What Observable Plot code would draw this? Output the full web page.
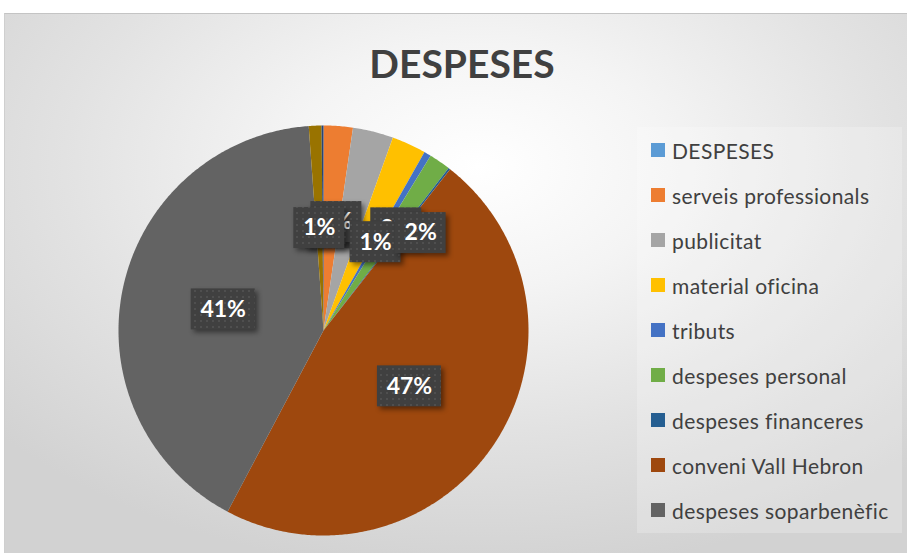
<!DOCTYPE html>
<html><head><meta charset="utf-8">
<script src="https://cdn.jsdelivr.net/npm/d3@7"></script>
<script src="https://cdn.jsdelivr.net/npm/@observablehq/plot@0.6"></script>
<style>
html,body{margin:0;padding:0;background:#fff;width:907px;height:553px;overflow:hidden;}
#bg{position:absolute;left:4px;top:13px;width:910px;height:545px;border-top:1px solid #c4c4c4;border-left:1px solid #cfcfcf;box-sizing:border-box;
 background:radial-gradient(ellipse 70% 75% at 52% 28%, #ffffff 0%, #f4f4f4 30%, #e2e2e2 65%, #d2d2d2 100%);}
#plot{position:absolute;left:0;top:0;}
#title{position:absolute;left:462px;top:38px;transform:translateX(-50%);font-family:Lato,sans-serif;font-weight:bold;font-size:39px;color:#404040;line-height:50px;white-space:nowrap;}
#legend{position:absolute;left:637px;top:127px;width:265px;height:406px;background:rgba(255,255,255,0.22);}
.item{position:absolute;left:14px;height:26px;display:flex;align-items:center;font-family:Lato,sans-serif;font-size:21px;letter-spacing:0.4px;color:#404040;white-space:nowrap;}
.sw{width:14px;height:14px;margin-right:7px;flex:none;}
</style></head>
<body>
<div id="bg"></div>
<div id="plot"></div>
<div id="title">DESPESES</div>
<div id="legend"></div>
<script>
// ---- data ----
const categories = ["DESPESES","serveis professionals","publicitat","material oficina","tributs","despeses personal","despeses financeres","conveni Vall Hebron","despeses soparbenèfic","cat10","cat11"];
const shares = [0, 2.3, 3.2, 2.7, 0.55, 1.7, 0.15, 47.15, 41.1, 1.0, 0.15];
const colors = ["#5B9BD5","#ED7D31","#A5A5A5","#FFC000","#4472C4","#70AD47","#255E91","#9E480E","#636363","#997300","#264478"];
const legendCategories = categories.slice(0, 9);

// ---- layout (not data) ----
const cx = 323, cy = 330, R = 205;
const labelNudge = { // px offsets from the mid-radius point, mimicking Excel "best fit"
  "serveis professionals": [0, 0],
  "publicitat": [-12, -9],
  "material oficina": [30, -9],
  "tributs": [0, 0],
  "despeses personal": [39, -13],
  "cat10": [0, 0]
};

const total = d3.sum(shares);
const pie = d3.pie().sort(null).value(d => d)(shares);
const slices = categories.map((c, i) => ({category: c, value: shares[i], share: shares[i] / total,
  start: pie[i].startAngle, end: pie[i].endAngle, mid: (pie[i].startAngle + pie[i].endAngle) / 2}));

// polygon outline of each slice (geometry only)
const poly = [];
for (const s of slices) {
  if (s.value <= 0) continue;
  const n = Math.max(2, Math.ceil((s.end - s.start) / (Math.PI / 360)));
  poly.push({category: s.category, x: 0, y: 0});
  for (let k = 0; k <= n; k++) {
    const a = s.start + (s.end - s.start) * k / n;
    poly.push({category: s.category, x: Math.sin(a), y: Math.cos(a)});
  }
  poly.push({category: s.category, x: 0, y: 0});
}

const fmt = d3.format(".0%");
const labels = slices.filter(s => s.value > 0 && fmt(s.share) !== "0%").map(s => {
  const nd = labelNudge[s.category] || [0, 0];
  const text = fmt(s.share);
  const hw = (text.length > 2 ? 32 : 25.5) / R, hh = 20.5 / R;
  const x = 0.5 * Math.sin(s.mid) + nd[0] / R, y = 0.5 * Math.cos(s.mid) - nd[1] / R;
  return {category: s.category, text, x, y, x1: x - hw, x2: x + hw, y1: y - hh, y2: y + hh};
});

const marks = [
  Plot.line(poly, {x: "x", y: "y", z: "category", fill: "category", stroke: "none", curve: "linear"})
];
for (const l of labels) {
  marks.push(Plot.rect([l], {x1: "x1", x2: "x2", y1: "y1", y2: "y2", fill: "#404040", className: "lblbox"}));
  marks.push(Plot.text([l], {x: "x", y: "y", text: "text", fill: "white", fontWeight: "bold", fontSize: 23,
    fontFamily: "Lato, sans-serif", textAnchor: "middle", lineAnchor: "middle"}));
}

const chart = Plot.plot({
  width: 907, height: 553, margin: 0,
  style: {background: "transparent", overflow: "visible"},
  x: {domain: [-1, 1], range: [cx - R, cx + R], axis: null},
  y: {domain: [-1, 1], range: [cy + R, cy - R], axis: null},
  color: {domain: categories, range: colors},
  marks
});
document.getElementById("plot").appendChild(chart);

// dotted texture + shadow on label boxes
const svg = d3.select(chart);
const defs = svg.insert("defs", ":first-child");
const pat = defs.append("pattern").attr("id", "dots").attr("width", 6).attr("height", 6).attr("patternUnits", "userSpaceOnUse");
pat.append("rect").attr("width", 6).attr("height", 6).attr("fill", "#404040");
pat.append("circle").attr("cx", 3).attr("cy", 3).attr("r", 0.9).attr("fill", "#565656");
svg.selectAll(".lblbox").style("filter", "drop-shadow(3px 3px 2.5px rgba(0,0,0,0.45))");
svg.selectAll(".lblbox rect").attr("fill", "url(#dots)");

// legend
const lg = document.getElementById("legend");
legendCategories.forEach((c, i) => {
  const it = document.createElement("div");
  it.className = "item";
  it.style.top = (150 + 45 * i - 127 - 13) + "px";
  const sw = document.createElement("span");
  sw.className = "sw"; sw.style.background = colors[i];
  it.appendChild(sw);
  it.appendChild(document.createTextNode(c));
  lg.appendChild(it);
});
</script>
</body></html>
